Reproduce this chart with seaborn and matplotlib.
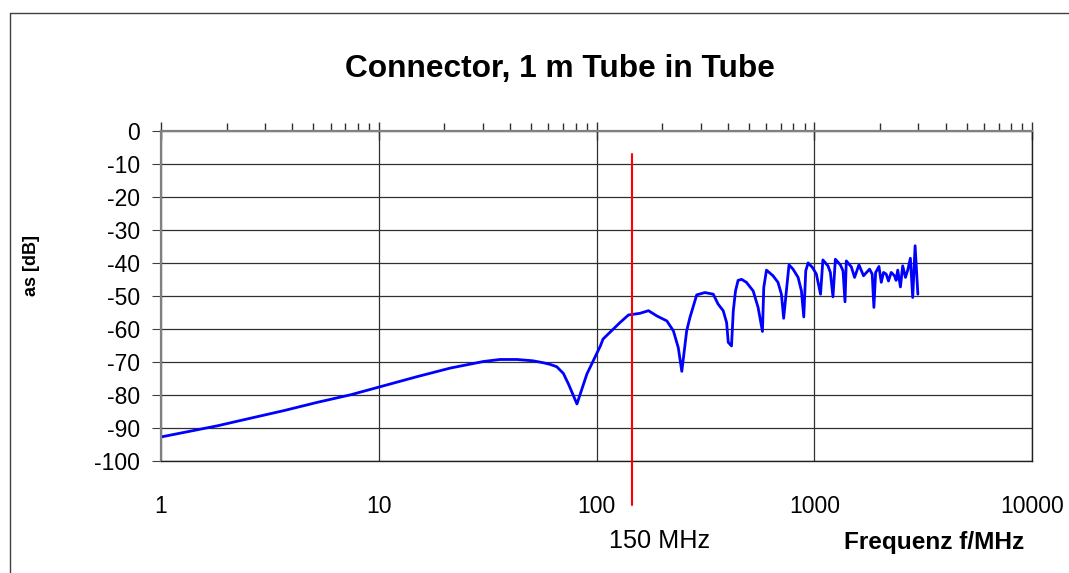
import matplotlib
matplotlib.use("Agg")
import matplotlib.pyplot as plt
from matplotlib.lines import Line2D
from matplotlib.ticker import LogLocator, NullFormatter, FixedLocator
import seaborn as sns
import pandas as pd
import numpy as np

# ---- data ----
freq_mhz = [1.0, 1.28, 1.82, 2.58, 3.67, 5.22, 7.43, 10.1, 15.0, 21.3, 30.3, 36,
            43.1, 51, 57, 61.2, 65.6, 70.3, 74.3, 81.2, 90.2, 93.3, 104, 107, 128,
            140, 158, 173, 189,
            210, 225, 237, 246, 259, 268, 288, 314, 343, 361, 381, 395, 402, 416,
            424, 434, 446, 463, 487, 523, 551, 577, 585, 602, 645, 680, 705, 722,
            743, 764, 797, 841, 871, 893, 912, 935, 979, 1020, 1066, 1093, 1153,
            1183, 1216, 1247, 1315, 1352, 1381, 1400, 1476, 1528, 1600, 1680,
            1790, 1841, 1874, 1909, 1977, 2026, 2075, 2134, 2186, 2250, 2329,
            2371, 2411, 2481, 2541, 2616, 2680, 2756, 2825, 2897, 2983]
as_db = [-92.8, -91.4, -89.4, -87.1, -84.8, -82.3, -80.0, -77.6, -74.5, -71.9,
         -69.9, -69.3, -69.3, -69.7, -70.3, -70.8, -71.5, -73.5, -76.8, -82.8,
         -73.7, -71.7, -65.2, -63.1,
         -58.1, -55.8, -55.3, -54.5, -56.1, -57.6, -60.6, -65.7, -72.9, -60.6,
         -56.6, -49.7, -49.0, -49.5, -52.5, -54.5, -58.1, -64.1, -65.2, -54.5,
         -48.5, -45.3, -45.0, -45.9, -48.5, -53.5, -60.8, -47.5, -42.2, -43.9,
         -45.9, -49.5, -56.8, -48.5, -40.6, -41.9, -44.4, -48.5, -56.4, -42.4,
         -40.0, -41.4, -43.4, -49.5, -39.1, -40.9, -42.9, -50.3, -38.9, -40.6,
         -42.4, -51.8, -39.4, -41.2, -44.4, -40.6, -43.9, -41.9, -43.4, -53.5,
         -42.9, -41.1, -45.9, -42.9, -43.4, -45.5, -42.9, -43.9, -45.3, -42.2,
         -47.3, -40.9, -44.4, -42.2, -38.6, -50.5, -34.8, -49.5]
marker_freq = 145          # position of the red "150 MHz" marker line
marker_label = "150 MHz"
y_ticks = [0, -10, -20, -30, -40, -50, -60, -70, -80, -90, -100]
x_ticks = [1, 10, 100, 1000, 10000]
x_tick_labels = ["1", "10", "100", "1000", "10000"]
title = "Connector, 1 m Tube in Tube"
x_label = "Frequenz f/MHz"
y_label = "as [dB]"

df = pd.DataFrame({"f": freq_mhz, "as": as_db})

sns.set_theme(style="white")
plt.rcParams["font.family"] = ["Liberation Sans", "DejaVu Sans"]
plt.rcParams["text.color"] = "black"
plt.rcParams["axes.labelcolor"] = "black"
plt.rcParams["xtick.color"] = "black"
plt.rcParams["ytick.color"] = "black"

W, H = 1069, 573
fig = plt.figure(figsize=(W / 100, H / 100), dpi=100)
fig.patch.set_facecolor("white")
ax = fig.add_axes([161 / W, 1 - 460.7 / H, (1032.3 - 161) / W, (460.7 - 131) / H])
ax.set_facecolor("white")

sns.lineplot(data=df, x="f", y="as", ax=ax, color="#0000ff", linewidth=2.0,
             sort=False, estimator=None, legend=False)

ax.set_xscale("log")
ax.set_xlim(1, 10000)
ax.set_ylim(-100, 0)

# red marker line (extends below the plot area)
ax.plot([marker_freq, marker_freq], [-7, -113.5], color="#ff0000", lw=1.5,
        clip_on=False, zorder=5)

ax.set_xticks(x_ticks)
ax.set_xticklabels(x_tick_labels, fontsize=16.5, color="black")
ax.xaxis.set_minor_locator(FixedLocator([]))
ax.set_yticks(y_ticks)
ax.set_yticklabels([str(v) for v in y_ticks], fontsize=16.5, color="black")
ax.grid(True, which="major", color="#303030", linewidth=0.9)
ax.set_axisbelow(True)

ax.tick_params(axis="x", which="both", bottom=False, top=False, pad=19)
ax.tick_params(axis="y", which="major", left=True, length=6.5, width=0.8,
               direction="out", pad=8.4, color="#404040")

for s in ["left", "top"]:
    ax.spines[s].set_color("#808080")
    ax.spines[s].set_linewidth(1.6)
for s in ["bottom", "right"]:
    ax.spines[s].set_color("#202020")
    ax.spines[s].set_linewidth(1.0)

# top ticks (major crossing, minor outward)
sec = ax.secondary_xaxis("top")
sec.xaxis.set_major_locator(FixedLocator(x_ticks))
sec.xaxis.set_minor_locator(LogLocator(base=10, subs=np.arange(2, 10)))
sec.xaxis.set_major_formatter(NullFormatter())
sec.xaxis.set_minor_formatter(NullFormatter())
sec.tick_params(which="major", direction="inout", length=13, width=1.0, color="#303030")
sec.tick_params(which="minor", direction="out", length=6, width=1.0, color="#303030")
sec.spines["top"].set_visible(False)

ax.set_xlabel("")
ax.set_ylabel("")

fig.text(559.5 / W, 1 - 69 / H, title, ha="center", va="center",
         fontsize=22.8, fontweight="bold", color="black")
fig.text(934 / W, 1 - 543 / H, x_label, ha="center", va="center",
         fontsize=17.6, fontweight="bold", color="black")
fig.text(660 / W, 1 - 541 / H, marker_label, ha="center", va="center",
         fontsize=18.2, color="black")
fig.text(32 / W, 1 - 265 / H, y_label, ha="center", va="center",
         fontsize=13, fontweight="bold", rotation=90, color="black")

# outer chart-area border (top and left edges visible in reference)
fig.add_artist(Line2D([10 / W, 1.0], [1 - 13 / H, 1 - 13 / H], color="#404040", lw=1.0))
fig.add_artist(Line2D([10 / W, 10 / W], [0.0, 1 - 13 / H], color="#404040", lw=1.0))

fig.savefig("out.png", dpi=100, facecolor="white")
